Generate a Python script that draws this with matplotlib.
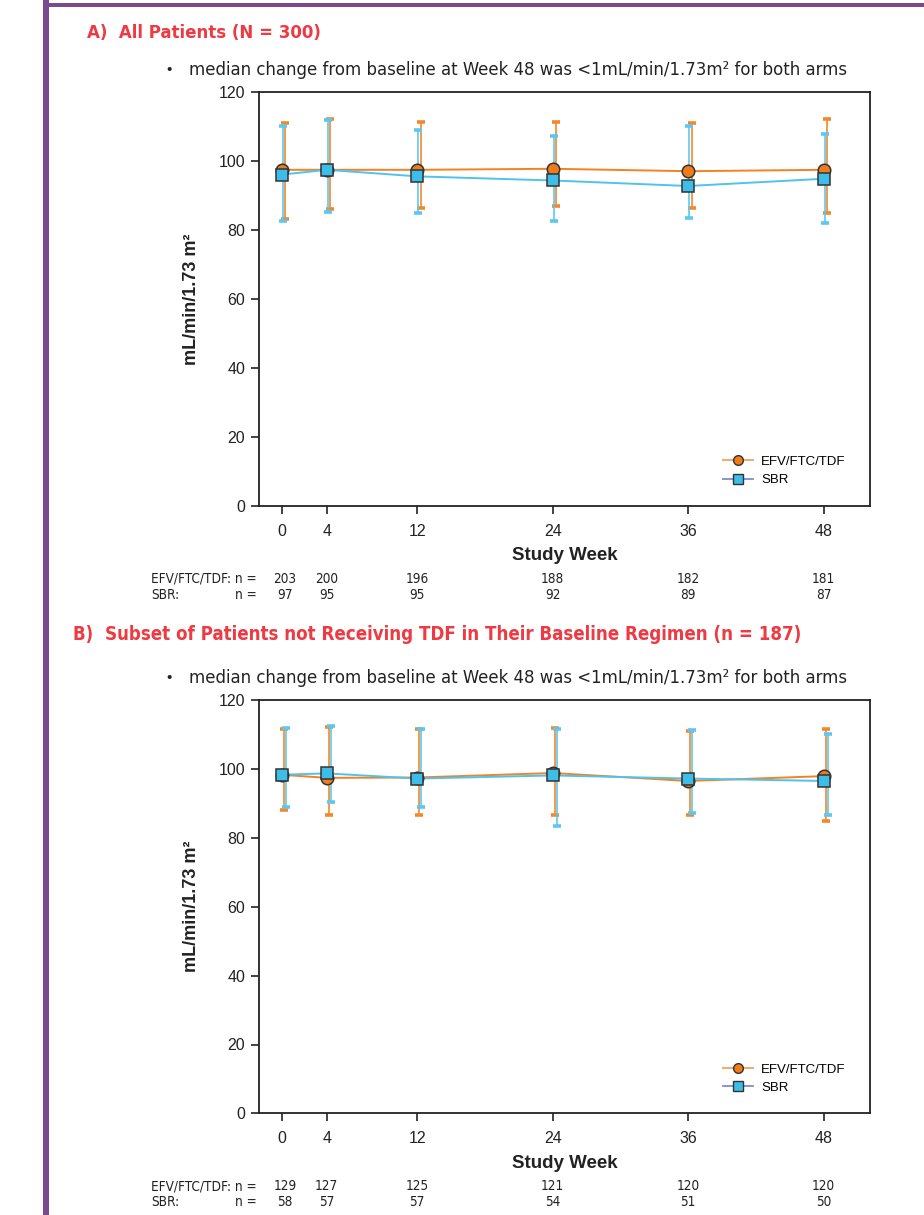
import matplotlib
matplotlib.use("Agg")
import matplotlib.pyplot as plt
from matplotlib.lines import Line2D
from matplotlib import font_manager as fm
import numpy as np

# ---------------- data ----------------
weeks = [0, 4, 12, 24, 36, 48]
week_labels = ["0", "4", "12", "24", "36", "48"]

# Panel A: all patients
a_efv_mid = [97.5, 97.5, 97.5, 97.8, 97.1, 97.5]
a_efv_lo = [83.2, 86.1, 86.4, 86.9, 86.4, 85.0]
a_efv_hi = [111.2, 112.2, 111.4, 111.4, 111.1, 112.2]
a_sbr_mid = [96.1, 97.5, 95.6, 94.4, 92.8, 94.9]
a_sbr_lo = [82.5, 85.2, 85.0, 82.5, 83.5, 82.2]
a_sbr_hi = [110.1, 111.9, 109.0, 107.2, 110.2, 108.0]
a_n_efv = ["203", "200", "196", "188", "182", "181"]
a_n_sbr = ["97", "95", "95", "92", "89", "87"]

# Panel B: patients not receiving TDF at baseline
b_efv_mid = [98.3, 97.4, 97.5, 98.8, 96.5, 97.9]
b_efv_lo = [88.0, 86.5, 86.5, 86.5, 86.5, 84.9]
b_efv_hi = [111.7, 112.3, 111.5, 111.9, 111.0, 111.6]
b_sbr_mid = [98.3, 98.7, 97.2, 98.1, 97.2, 96.5]
b_sbr_lo = [89.0, 90.5, 89.0, 83.5, 87.1, 86.5]
b_sbr_hi = [112.0, 112.4, 111.5, 111.7, 111.2, 110.2]
b_n_efv = ["129", "127", "125", "121", "120", "120"]
b_n_sbr = ["58", "57", "57", "54", "51", "50"]

series_names = ["EFV/FTC/TDF", "SBR"]
title_a = "A)  All Patients (N = 300)"
title_b = "B)  Subset of Patients not Receiving TDF in Their Baseline Regimen (n = 187)"
bullet_text = "median change from baseline at Week 48 was <1mL/min/1.73m\u00b2 for both arms"
ylabel = "mL/min/1.73 m\u00b2"
xlabel = "Study Week"
row_label_efv = "EFV/FTC/TDF: n ="
row_label_sbr = "SBR:"
row_n_sbr = "n ="

# ---------------- style ----------------
W, H = 924, 1215
SANS = ["Liberation Sans", "DejaVu Sans"]
plt.rcParams["font.family"] = SANS

# narrow / condensed sans families, if installed
_narrow_reg = None
_narrow_bold = None
for f in fm.fontManager.ttflist:
    s = (f.name + " " + f.fname).lower()
    if ("narrow" in s or "condensed" in s) and not any(k in s for k in ("mono", "slab", "serif")):
        w = f.weight if isinstance(f.weight, int) else (700 if "bold" in str(f.weight) else 400)
        if f.style == "normal":
            if w >= 600 and _narrow_bold is None:
                _narrow_bold = f
            if w == 400 and _narrow_reg is None:
                _narrow_reg = f
NARROW = ([_narrow_reg.name] if _narrow_reg else []) + SANS
STRETCH = _narrow_reg.stretch if _narrow_reg else "normal"
if _narrow_bold is not None:
    TITLE_FAMILY = [_narrow_bold.name] + SANS
    TITLE_STRETCH = _narrow_bold.stretch
else:
    TITLE_FAMILY = SANS
    TITLE_STRETCH = "normal"

RED = "#EE3A43"
PURPLE = "#7B4A8D"
ORANGE = "#F58220"
ORANGE_EB = "#F5872A"
BLUE = "#4FC3EE"
BLUE_EB = "#5CC8F0"
EDGE = "#333333"
TXT = "#222222"

fig = plt.figure(figsize=(W / 100, H / 100), dpi=100)
renderer = fig.canvas.get_renderer()


def fx(x):
    return x / W


def fy(y):
    return 1 - y / H


def fit(t, target_px):
    """Scale the font size of text t so it spans target_px pixels."""
    for _ in range(3):
        w = t.get_window_extent(renderer=renderer).width
        if w <= 0:
            break
        t.set_fontsize(t.get_fontsize() * target_px / w)
    return t


# purple frame
fig.add_artist(plt.Rectangle((fx(43), fy(1215)), fx(6), 1, transform=fig.transFigure,
                             color=PURPLE, lw=0))
fig.add_artist(plt.Rectangle((fx(43), fy(7)), 1, 4 / H, transform=fig.transFigure,
                             color=PURPLE, lw=0))


def panel(top_px, title, title_x, title_y, title_w, efv, sbr, n_efv, n_sbr,
          off_efv, off_sbr):
    ax_left, ax_right = 259, 870
    ax_h = 413.4
    bottom_px = top_px + ax_h
    ax = fig.add_axes([fx(ax_left), fy(bottom_px), (ax_right - ax_left) / W, ax_h / H])

    # titles
    t = fig.text(fx(title_x), fy(title_y), title, color=RED, fontsize=15,
                 fontweight="bold", family=TITLE_FAMILY, fontstretch=TITLE_STRETCH,
                 va="center", ha="left")
    fit(t, title_w)
    fig.text(fx(166), fy(top_px - 22), "\u2022", fontsize=11, family=SANS,
             va="center", ha="left", color=TXT)
    t = fig.text(fx(189), fy(top_px - 22), bullet_text, fontsize=13.5, family=NARROW,
                 fontstretch=STRETCH, va="center", ha="left", color=TXT)
    fit(t, 655)

    mid_e, lo_e, hi_e = efv
    mid_s, lo_s, hi_s = sbr
    x = np.array(weeks, dtype=float)

    ax.errorbar(x + off_efv, mid_e,
                yerr=[np.array(mid_e) - np.array(lo_e), np.array(hi_e) - np.array(mid_e)],
                fmt="none", ecolor=ORANGE_EB, elinewidth=1.2, capsize=3.2, capthick=2.6,
                zorder=2)
    ax.errorbar(x + off_sbr, mid_s,
                yerr=[np.array(mid_s) - np.array(lo_s), np.array(hi_s) - np.array(mid_s)],
                fmt="none", ecolor=BLUE_EB, elinewidth=1.2, capsize=3.2, capthick=2.6,
                zorder=2)
    ax.plot(x, mid_e, color=ORANGE, lw=1.4, zorder=3)
    ax.plot(x, mid_s, color=BLUE, lw=1.4, zorder=3)
    ax.plot(x, mid_e, ls="none", marker="o", ms=9, mfc="#F07B1A", mec=EDGE, mew=1.1, zorder=4)
    ax.plot(x, mid_s, ls="none", marker="s", ms=8, mfc="#3CBDEA", mec=EDGE, mew=1.1, zorder=5)

    ax.set_xlim(-2, 52.1)
    ax.set_ylim(0, 120)
    ax.set_xticks(weeks)
    ax.set_xticklabels(week_labels)
    ax.set_yticks(np.arange(0, 121, 20))
    ax.tick_params(axis="both", direction="out", length=6, width=1.2, labelsize=11.5,
                   colors=TXT, pad=4)
    ax.tick_params(axis="x", pad=7)
    for sp in ax.spines.values():
        sp.set_linewidth(1.3)
        sp.set_color(TXT)

    fig.text(fx(192), fy(top_px + ax_h / 2), ylabel, rotation=90, fontsize=13,
             fontweight="bold", family=SANS, va="center", ha="center", color=TXT)
    fig.text(fx((ax_left + ax_right) / 2), fy(bottom_px + 50), xlabel, fontsize=13.5,
             fontweight="bold", family=SANS, va="center", ha="center", color=TXT)

    # n at risk rows
    tr = ax.get_xaxis_transform()
    r1, r2 = 73, 89
    t = fig.text(fx(151), fy(bottom_px + r1), row_label_efv, fontsize=9,
                 family=NARROW, fontstretch=STRETCH, va="center", ha="left", color=TXT)
    fit(t, 106)
    nfs = t.get_fontsize()
    fig.text(fx(151), fy(bottom_px + r2), row_label_sbr, fontsize=nfs,
             family=NARROW, fontstretch=STRETCH, va="center", ha="left", color=TXT)
    fig.text(fx(257), fy(bottom_px + r2), row_n_sbr, fontsize=nfs,
             family=NARROW, fontstretch=STRETCH, va="center", ha="right", color=TXT)
    for w, ne, ns in zip(weeks, n_efv, n_sbr):
        dx = 0.3 if w == 0 else 0.0
        ax.text(w + dx, -r1 / ax_h, ne, transform=tr, fontsize=nfs, family=NARROW,
                fontstretch=STRETCH, ha="center", va="center", color=TXT, clip_on=False)
        ax.text(w + dx, -r2 / ax_h, ns, transform=tr, fontsize=nfs, family=NARROW,
                fontstretch=STRETCH, ha="center", va="center", color=TXT, clip_on=False)

    handles = [
        Line2D([], [], color="#F7A060", lw=1.3, marker="o", ms=7, mfc="#F07B1A", mec=EDGE,
               mew=1.0),
        Line2D([], [], color="#7A8FD0", lw=1.3, marker="s", ms=6.5, mfc="#3CBDEA", mec=EDGE,
               mew=1.0),
    ]
    ax.legend(handles, series_names, loc="lower right", bbox_to_anchor=(0.975, 0.025),
              frameon=False, handlelength=2.3, handletextpad=0.6,
              labelspacing=0.45, borderpad=0.2, prop={"family": SANS, "size": 9.5})
    return ax


panel(92.3, title_a, 87, 33, 234, (a_efv_mid, a_efv_lo, a_efv_hi),
      (a_sbr_mid, a_sbr_lo, a_sbr_hi), a_n_efv, a_n_sbr, 0.3, 0.1)
panel(700.0, title_b, 73, 635, 734, (b_efv_mid, b_efv_lo, b_efv_hi),
      (b_sbr_mid, b_sbr_lo, b_sbr_hi), b_n_efv, b_n_sbr, 0.2, 0.35)

fig.savefig("out.png", dpi=100)
